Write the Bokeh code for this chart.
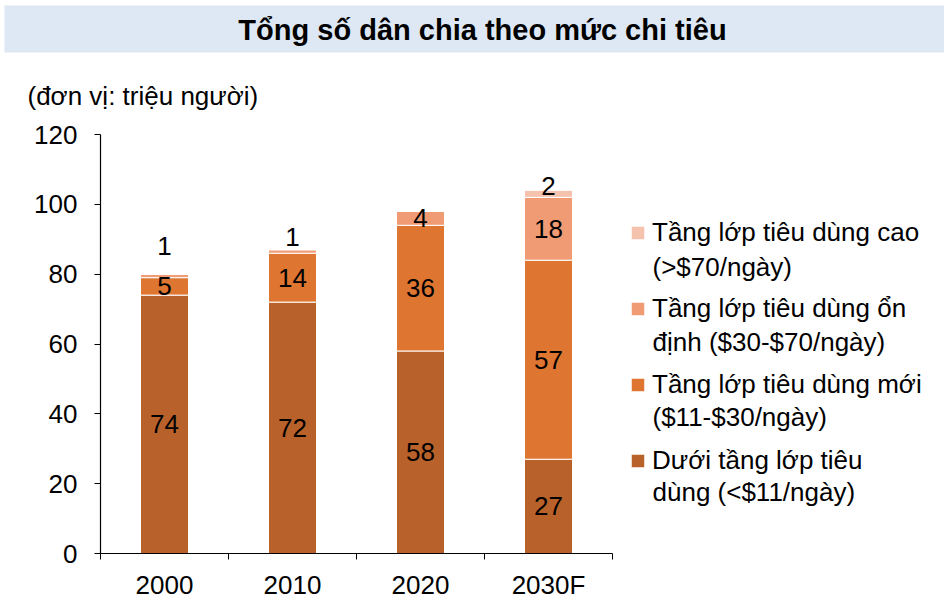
from bokeh.plotting import figure
from bokeh.models import (ColumnDataSource, Range1d, FixedTicker, Legend, LegendItem,
                          Label, BoxAnnotation)
from bokeh.core.properties import value
from bokeh.embed import file_html
from bokeh.resources import INLINE

# ---- data ----
categories = ["2000", "2010", "2020", "2030F"]
duoi = [74, 72, 58, 27]        # Dưới tầng lớp tiêu dùng (<$11/ngày)
moi = [5, 14, 36, 57]          # Tầng lớp tiêu dùng mới ($11-$30/ngày)
ondinh = [1, 1, 4, 18]         # Tầng lớp tiêu dùng ổn định ($30-$70/ngày)
cao = [0, 0, 0, 2]             # Tầng lớp tiêu dùng cao (>$70/ngày)
y_ticks = [0, 20, 40, 60, 80, 100, 120]

title_text = "Tổng số dân chia theo mức chi tiêu"
unit_text = "(đơn vị: triệu người)"
series_keys = ["duoi", "moi", "ondinh", "cao"]
legend_line1 = ["Dưới tầng lớp tiêu", "Tầng lớp tiêu dùng mới",
                "Tầng lớp tiêu dùng ổn", "Tầng lớp tiêu dùng cao"]
legend_line2 = ["dùng (<$11/ngày)", "($11-$30/ngày)",
                "định ($30-$70/ngày)", "(>$70/ngày)"]
colors = ["#B9612A", "#DE7531", "#F09B73", "#F5C2AE"]

FONT = "Liberation Sans"

# ---- layout (pixels) ----
W, H = 944, 600
X0_PX, X1_PX = 100, 612      # x = 0 and x = n categories
Y0_PX, Y1_PX = 553, 134      # y = 0 and y = 120
YMAX = y_ticks[-1]
n = len(categories)
sx = (X1_PX - X0_PX) / n
sy = (Y0_PX - Y1_PX) / YMAX

p = figure(width=W, height=H, title=None, min_border=0,
           x_range=Range1d(-X0_PX / sx, (W - X0_PX) / sx),
           y_range=Range1d(-(H - Y0_PX) / sy, YMAX + Y1_PX / sy),
           output_backend="svg", toolbar_location=None, tools="")
p.outline_line_color = None
p.grid.visible = False

# title bar and unit note
p.add_layout(BoxAnnotation(left=4, right=W, top=H - 5, bottom=H - 52,
                           left_units="screen", right_units="screen",
                           top_units="screen", bottom_units="screen",
                           fill_color="#DDE8F4", fill_alpha=1, line_color=None,
                           level="underlay"))
p.add_layout(Label(x=482, y=H - 29, x_units="screen", y_units="screen", text=title_text,
                   text_align="center", text_baseline="middle", text_font=FONT,
                   text_font_size="29px", text_font_style="bold", text_color="black"))
p.add_layout(Label(x=27, y=H - 95, x_units="screen", y_units="screen", text=unit_text,
                   text_align="left", text_baseline="middle", text_font=FONT,
                   text_font_size="26px", text_color="black"))

# bars
xs = [i + 0.5 for i in range(n)]
src = ColumnDataSource(dict(x=xs, duoi=duoi, moi=moi, ondinh=ondinh, cao=cao))
renderers = p.vbar_stack(series_keys, x="x", width=0.375, source=src,
                         color=colors, line_color="white", line_width=1)

# axes drawn at data 0, limited to the data area
p.yaxis.fixed_location = 0
p.yaxis.bounds = (0, YMAX)
p.yaxis.ticker = FixedTicker(ticks=y_ticks)
p.yaxis.major_tick_out = 6
p.yaxis.major_tick_in = 0
p.yaxis.minor_tick_out = 0
p.yaxis.minor_tick_in = 0
p.yaxis.major_label_standoff = 17
p.xaxis.fixed_location = 0
p.xaxis.bounds = (0, n)
p.xaxis.ticker = FixedTicker(ticks=xs, minor_ticks=list(range(n + 1)))
p.xaxis.major_label_overrides = {x: c for x, c in zip(xs, categories)}
p.xaxis.major_tick_out = 0
p.xaxis.major_tick_in = 0
p.xaxis.minor_tick_out = 6
p.xaxis.minor_tick_in = 0
p.xaxis.major_label_standoff = 10
for ax in (p.xaxis[0], p.yaxis[0]):
    ax.axis_line_color = "black"
    ax.axis_line_width = 1.2
    ax.major_tick_line_color = "black"
    ax.minor_tick_line_color = "black"
    ax.major_label_text_font = FONT
    ax.major_label_text_font_size = "26px"
    ax.major_label_text_color = "black"

# value labels
lx, ly, lt, loff = [], [], [], []
lift = {(0, "ondinh"): -30, (1, "ondinh"): -14, (3, "cao"): -8}
series_vals = dict(duoi=duoi, moi=moi, ondinh=ondinh, cao=cao)
for i in range(n):
    base = 0
    for k in series_keys:
        v = series_vals[k][i]
        if v > 0:
            lx.append(xs[i])
            ly.append(base + v / 2)
            lt.append(str(v))
            loff.append(lift.get((i, k), 0))
        base += v
lsrc = ColumnDataSource(dict(x=lx, y=ly, t=lt, off=loff))
p.text(x="x", y="y", text="t", y_offset="off", source=lsrc, text_align="center",
       text_baseline="middle", text_font=value(FONT), text_font_size="26px",
       text_color="black")

# legend (top series first); second text lines as labels below each entry
LEG_X, LEG_TOP, ITEM_H, PITCH = 629, 221, 30, 75
order = list(range(len(series_keys) - 1, -1, -1))
items = [LegendItem(label=legend_line1[j], renderers=[renderers[j]]) for j in order]
leg_h = len(items) * ITEM_H + (len(items) - 1) * (PITCH - ITEM_H)
legend = Legend(items=items, location=(LEG_X, H - LEG_TOP - leg_h), padding=0, margin=0,
                border_line_alpha=0, background_fill_alpha=0,
                glyph_width=17, glyph_height=17, label_height=ITEM_H, label_width=10,
                label_standoff=6, spacing=PITCH - ITEM_H,
                label_text_font=FONT, label_text_font_size="26px",
                label_text_color="black")
p.add_layout(legend, "center")
for r, j in enumerate(order):
    p.add_layout(Label(x=LEG_X + 23, y=H - (LEG_TOP + ITEM_H / 2 + r * PITCH + 30),
                       x_units="screen", y_units="screen", text=legend_line2[j],
                       text_align="left", text_baseline="middle", text_font=FONT,
                       text_font_size="26px", text_color="black"))

open("out.html", "w").write(file_html(p, INLINE))
